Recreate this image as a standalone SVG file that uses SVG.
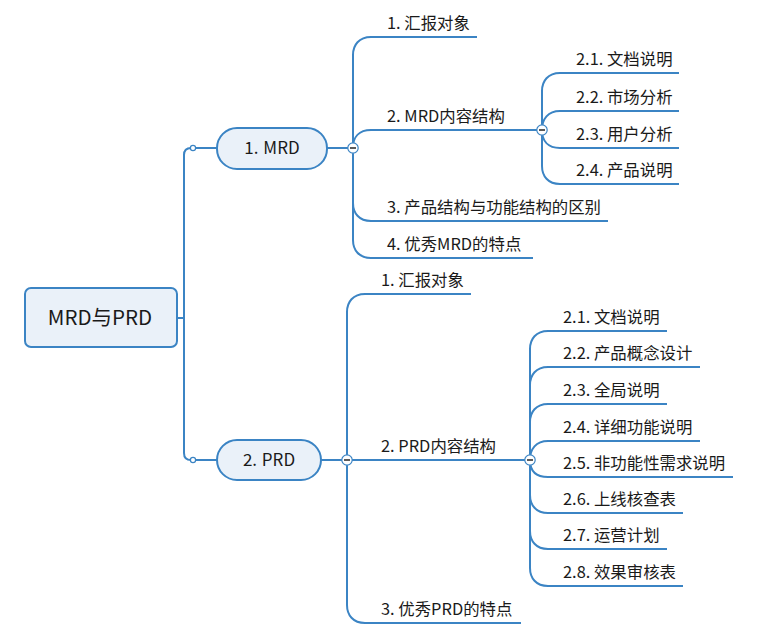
<svg xmlns="http://www.w3.org/2000/svg" width="760" height="642" viewBox="0 0 760 642">
<style>
.ln{fill:none;stroke:#3B84C4;stroke-width:2}
.node{fill:#EAF1F9;stroke:#3B84C4;stroke-width:2}
.t{font-family:"Microsoft YaHei","Noto Sans CJK SC",sans-serif;font-size:16.4px;fill:#1a1a1a}
.tc{text-anchor:middle}
.root{font-size:20.5px}
.node-t{font-size:17px;word-spacing:1px}
.col{fill:#fff;stroke:#3B84C4;stroke-width:1.2}
.minus{stroke:#333;stroke-width:1.6}
.dot{fill:#fff;stroke:#3B84C4;stroke-width:1.2}
</style>
<defs>
<g id="collapse"><circle class="col" r="5.2"/><line class="minus" x1="-3" y1="0" x2="3" y2="0"/></g>
</defs>
<rect width="760" height="642" fill="#fff"/>
<g id="connectors">
<path class="ln" d="M177,318 H184"/>
<path class="ln" d="M184,318 V155 Q184,148 191,148"/>
<path class="ln" d="M195.5,148 H217"/>
<path class="ln" d="M184,318 V453 Q184,460 191,460"/>
<path class="ln" d="M195.5,460 H217"/>
<path class="ln" d="M327,148 H348"/>
<path class="ln" d="M321,460 H342"/>
<path class="ln" d="M353,148 V55 C353,45 359,37 371,37 H477"/>
<path class="ln" d="M353,148 C353,137 359,130 371,130 H537"/>
<path class="ln" d="M353,148 V203 C353,213 359,221 371,221 H608"/>
<path class="ln" d="M353,148 V240 C353,250 359,258 371,258 H533"/>
<path class="ln" d="M542,130 V91 C542,81 548,73 560,73 H679"/>
<path class="ln" d="M542,130 C542,119 548,111 560,111 H679"/>
<path class="ln" d="M542,130 C542,141 548,148 560,148 H679"/>
<path class="ln" d="M542,130 V166 C542,176 548,184 560,184 H679"/>
<path class="ln" d="M347,460 V312 C347,302 353,294 365,294 H471"/>
<path class="ln" d="M352,460 H525"/>
<path class="ln" d="M347,460 V605 C347,615 353,623 365,623 H521"/>
<path class="ln" d="M530,460 V349 C530,339 536,331 548,331 H667"/>
<path class="ln" d="M530,460 V385 C530,375 536,367 548,367 H700"/>
<path class="ln" d="M530,460 V422 C530,412 536,404 548,404 H667"/>
<path class="ln" d="M530,460 C530,449 536,441 548,441 H700"/>
<path class="ln" d="M530,460 C530,471 536,477 548,477 H733"/>
<path class="ln" d="M530,460 V495 C530,505 536,513 548,513 H683"/>
<path class="ln" d="M530,460 V531 C530,541 536,549 548,549 H667"/>
<path class="ln" d="M530,460 V568 C530,578 536,586 548,586 H683"/>
<circle class="dot" cx="193" cy="148" r="2.6"/>
<circle class="dot" cx="193" cy="460" r="2.6"/>
<use href="#collapse" x="353" y="148"/>
<use href="#collapse" x="542" y="130"/>
<use href="#collapse" x="347" y="460"/>
<use href="#collapse" x="530" y="460"/>
</g>
<g id="root">
<rect class="node" x="25" y="288" width="152" height="59" rx="6"/>
<text class="t tc root" x="100" y="325">MRD与PRD</text>
</g>
<g id="mrd">
<rect class="node" x="217" y="128" width="110" height="41" rx="20"/>
<text class="t tc node-t" x="272" y="154">1. MRD</text>
</g>
<g id="prd">
<rect class="node" x="217" y="440" width="104" height="40" rx="20"/>
<text class="t tc node-t" x="269" y="466">2. PRD</text>
</g>
<g id="mrd-children">
<text class="t" x="387" y="29">1. 汇报对象</text>
<text class="t" x="387" y="122">2. MRD内容结构</text>
<text class="t" x="387" y="213">3. 产品结构与功能结构的区别</text>
<text class="t" x="387" y="250">4. 优秀MRD的特点</text>
<text class="t" x="576" y="65">2.1. 文档说明</text>
<text class="t" x="576" y="103">2.2. 市场分析</text>
<text class="t" x="576" y="140">2.3. 用户分析</text>
<text class="t" x="576" y="176">2.4. 产品说明</text>
</g>
<g id="prd-children">
<text class="t" x="381" y="286">1. 汇报对象</text>
<text class="t" x="381" y="452">2. PRD内容结构</text>
<text class="t" x="381" y="615">3. 优秀PRD的特点</text>
<text class="t" x="563" y="323">2.1. 文档说明</text>
<text class="t" x="563" y="359">2.2. 产品概念设计</text>
<text class="t" x="563" y="396">2.3. 全局说明</text>
<text class="t" x="563" y="433">2.4. 详细功能说明</text>
<text class="t" x="563" y="469">2.5. 非功能性需求说明</text>
<text class="t" x="563" y="505">2.6. 上线核查表</text>
<text class="t" x="563" y="541">2.7. 运营计划</text>
<text class="t" x="563" y="578">2.8. 效果审核表</text>
</g>
</svg>
